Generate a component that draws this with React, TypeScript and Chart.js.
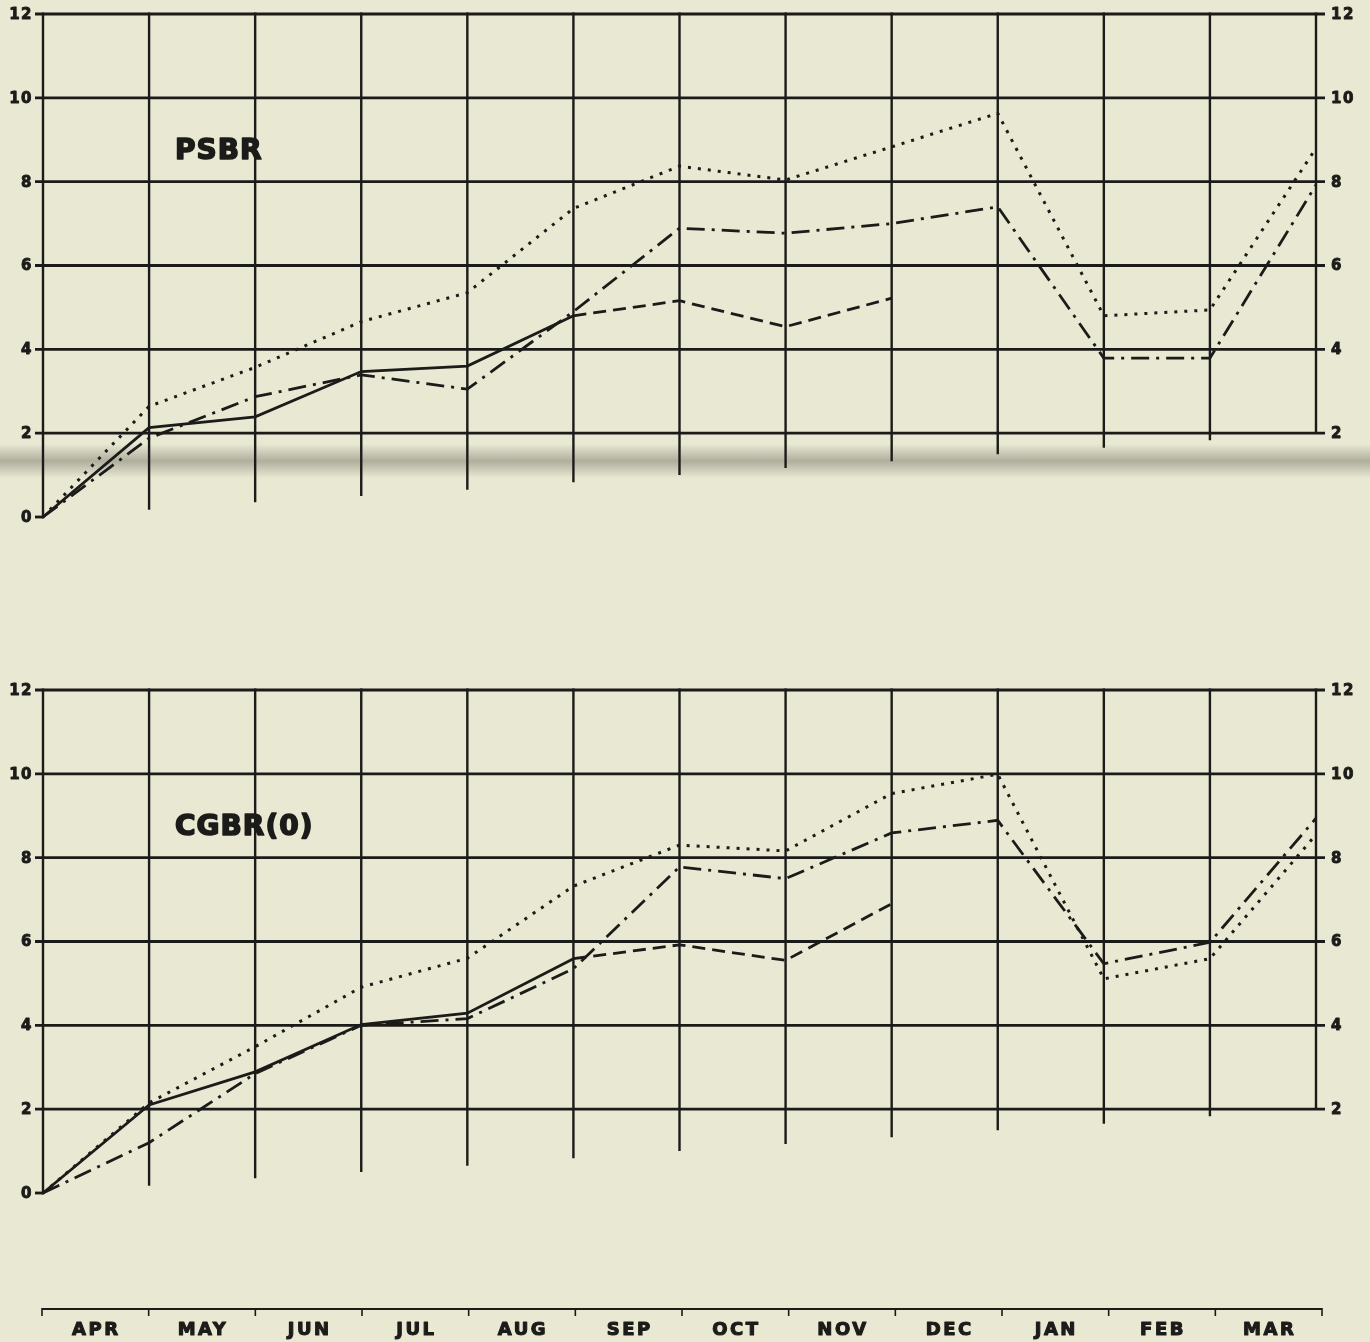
import React, { useEffect, useRef } from "react";
import { Chart, registerables } from "chart.js";
Chart.register(...registerables);

// ---------- data ----------
const MONTHS = ["APR", "MAY", "JUN", "JUL", "AUG", "SEP", "OCT", "NOV", "DEC", "JAN", "FEB", "MAR"];
const MONTH_ENDS = [0, 1, 2, 3, 4, 5, 6, 7, 8, 9, 10, 11, 12];
const LEFT_TICKS = [0, 2, 4, 6, 8, 10, 12];
const RIGHT_TICKS = [2, 4, 6, 8, 10, 12];
const GRID_FLOOR = [0, 0.17, 0.35, 0.5, 0.65, 0.83, 1.0, 1.17, 1.33, 1.5, 1.65, 1.83, 2];

const PSBR_OUTTURN = [0, 2.13, 2.39, 3.47, 3.6, 4.8, null, null, null, null, null, null, null];
const PSBR_DASHED = [null, null, null, null, null, 4.8, 5.16, 4.54, 5.22, null, null, null, null];
const PSBR_DASHDOT = [0, 1.88, 2.87, 3.39, 3.05, 4.9, 6.89, 6.77, 7.0, 7.4, 3.79, 3.79, 7.92];
const PSBR_DOTTED = [0, 2.64, 3.57, 4.66, 5.35, 7.36, 8.37, 8.04, 8.83, 9.63, 4.8, 4.94, 8.8];

const CGBR_OUTTURN = [0, 2.1, 2.89, 4.02, 4.29, 5.59, null, null, null, null, null, null, null];
const CGBR_DASHED = [null, null, null, null, null, 5.59, 5.92, 5.55, 6.9, null, null, null, null];
const CGBR_DASHDOT = [0, 1.2, 2.85, 4.0, 4.16, 5.35, 7.78, 7.5, 8.59, 8.89, 5.47, 5.98, 8.94];
const CGBR_DOTTED = [0, 2.15, 3.49, 4.91, 5.6, 7.32, 8.3, 8.16, 9.53, 9.99, 5.11, 5.59, 8.55];

// ---------- style ----------
const INK = "#1b1b19";
const BG = "#e9e8d2";
const NUM_FONT = 'bold 15px "DejaVu Sans"';
const TITLE_FONT = 'bold 28px "DejaVu Sans"';
const MONTH_FONT = 'bold 18px "DejaVu Sans"';

const toPoints = (arr: (number | null)[]) => MONTH_ENDS.map((x, i) => ({ x, y: arr[i] }));

const lineDs = (arr: (number | null)[], dash: number[], width: number) => ({
  data: toPoints(arr),
  borderColor: INK,
  borderWidth: width,
  borderDash: dash,
  borderCapStyle: "butt" as const,
  borderJoinStyle: "miter" as const,
  pointRadius: 0,
  fill: false,
  tension: 0,
  spanGaps: false,
  clip: false as any,
});

function heavyText(ctx: CanvasRenderingContext2D, s: string, x: number, y: number, w: number) {
  ctx.lineWidth = w;
  ctx.lineJoin = "round";
  ctx.strokeText(s, x, y);
  ctx.fillText(s, x, y);
}

const panelPlugin = {
  id: "panelGrid",
  beforeDatasetsDraw(chart: any, _a: any, opts: any) {
    const { ctx } = chart;
    const x = chart.scales.x;
    const y = chart.scales.y;
    const x0 = x.getPixelForValue(0);
    const x1 = x.getPixelForValue(12);
    ctx.save();
    ctx.strokeStyle = INK;
    ctx.lineCap = "butt";
    // horizontal grid + ticks
    ctx.lineWidth = 2.8;
    for (const v of LEFT_TICKS) {
      const py = y.getPixelForValue(v);
      ctx.beginPath();
      ctx.moveTo(x0 - 8, py);
      if (v === 0) ctx.lineTo(x0, py);
      else ctx.lineTo(x1 + (RIGHT_TICKS.includes(v) ? 9 : 0), py);
      ctx.stroke();
    }
    // vertical grid
    ctx.lineWidth = 2.4;
    MONTH_ENDS.forEach((b, i) => {
      const px = x.getPixelForValue(b);
      ctx.beginPath();
      ctx.moveTo(px, y.getPixelForValue(12) - 1.4);
      ctx.lineTo(px, y.getPixelForValue(GRID_FLOOR[i]) + (i === 0 ? 1.4 : 0));
      ctx.stroke();
    });
    // tick labels
    ctx.fillStyle = INK;
    ctx.font = NUM_FONT;
    (ctx as any).letterSpacing = "1.5px";
    ctx.textBaseline = "middle";
    ctx.textAlign = "right";
    for (const v of LEFT_TICKS) heavyText(ctx, String(v), x0 - 10, y.getPixelForValue(v) + 1, 0.9);
    ctx.textAlign = "left";
    for (const v of RIGHT_TICKS) heavyText(ctx, String(v), x1 + 15, y.getPixelForValue(v) + 1, 0.9);
    // title
    ctx.font = TITLE_FONT;
    (ctx as any).letterSpacing = "1px";
    ctx.textBaseline = "alphabetic";
    ctx.textAlign = "left";
    heavyText(ctx, opts.title, x0 + 132, y.getPixelForValue(opts.titleAt), 1.6);
    ctx.restore();
  },
};

function Panel({ top, title, titleAt, series }: { top: number; title: string; titleAt: number; series: (number | null)[][] }) {
  const ref = useRef<HTMLCanvasElement>(null);
  useEffect(() => {
    const [solid, dashed, dashdot, dotted] = series;
    const chart = new Chart(ref.current as HTMLCanvasElement, {
      type: "line",
      data: {
        datasets: [
          lineDs(dotted, [3, 7], 3),
          lineDs(dashdot, [18, 7, 3, 7], 2.8),
          lineDs(dashed, [13, 7], 2.8),
          lineDs(solid, [], 2.8),
        ] as any,
      },
      options: {
        responsive: false,
        devicePixelRatio: 1,
        animation: false,
        layout: { padding: { left: 43, right: 54, top: 14, bottom: 23 } },
        scales: {
          x: { type: "linear", min: 0, max: 12, display: false },
          y: { type: "linear", min: 0, max: 12, display: false },
        },
        plugins: {
          legend: { display: false },
          tooltip: { enabled: false },
          panelGrid: { title, titleAt },
        } as any,
      },
      plugins: [panelPlugin],
    });
    return () => chart.destroy();
  }, []);
  return (
    <canvas
      ref={ref}
      width={1370}
      height={540}
      style={{ position: "absolute", left: 0, top, width: 1370, height: 540 }}
    />
  );
}

const monthPlugin = {
  id: "monthAxis",
  afterDraw(chart: any) {
    const { ctx } = chart;
    const x = chart.scales.x;
    const ly = 19;
    ctx.save();
    ctx.strokeStyle = INK;
    ctx.lineWidth = 2.2;
    ctx.beginPath();
    ctx.moveTo(x.getPixelForValue(0), ly);
    ctx.lineTo(x.getPixelForValue(12), ly);
    ctx.stroke();
    ctx.lineWidth = 1.6;
    for (const b of MONTH_ENDS) {
      const px = x.getPixelForValue(b);
      ctx.beginPath();
      ctx.moveTo(px, ly - 1);
      ctx.lineTo(px, ly + 7);
      ctx.stroke();
    }
    ctx.fillStyle = INK;
    ctx.font = MONTH_FONT;
    (ctx as any).letterSpacing = "2.5px";
    ctx.textAlign = "center";
    ctx.textBaseline = "alphabetic";
    MONTHS.forEach((m, i) => heavyText(ctx, m, x.getPixelForValue(i + 0.5) + 1, 45, 1.1));
    ctx.restore();
  },
};

function MonthAxis({ top }: { top: number }) {
  const ref = useRef<HTMLCanvasElement>(null);
  useEffect(() => {
    const chart = new Chart(ref.current as HTMLCanvasElement, {
      type: "line",
      data: { datasets: [] },
      options: {
        responsive: false,
        devicePixelRatio: 1,
        animation: false,
        layout: { padding: { left: 42, right: 48, top: 0, bottom: 0 } },
        scales: {
          x: { type: "linear", min: 0, max: 12, display: false },
          y: { type: "linear", min: 0, max: 1, display: false },
        },
        plugins: { legend: { display: false }, tooltip: { enabled: false } },
      },
      plugins: [monthPlugin],
    });
    return () => chart.destroy();
  }, []);
  return (
    <canvas
      ref={ref}
      width={1370}
      height={52}
      style={{ position: "absolute", left: 0, top, width: 1370, height: 52 }}
    />
  );
}

export default function App() {
  return (
    <div
      style={{
        position: "absolute",
        left: 0,
        top: 0,
        width: 1370,
        height: 1342,
        overflow: "hidden",
        background:
          "linear-gradient(to bottom, rgba(0,0,0,0) 444px, rgba(105,105,95,0.45) 461px, rgba(0,0,0,0) 478px), " +
          BG,
      }}
    >
      <Panel top={0} title="PSBR" titleAt={8.55} series={[PSBR_OUTTURN, PSBR_DASHED, PSBR_DASHDOT, PSBR_DOTTED]} />
      <Panel top={676} title="CGBR(0)" titleAt={8.55} series={[CGBR_OUTTURN, CGBR_DASHED, CGBR_DASHDOT, CGBR_DOTTED]} />
      <MonthAxis top={1290} />
    </div>
  );
}
